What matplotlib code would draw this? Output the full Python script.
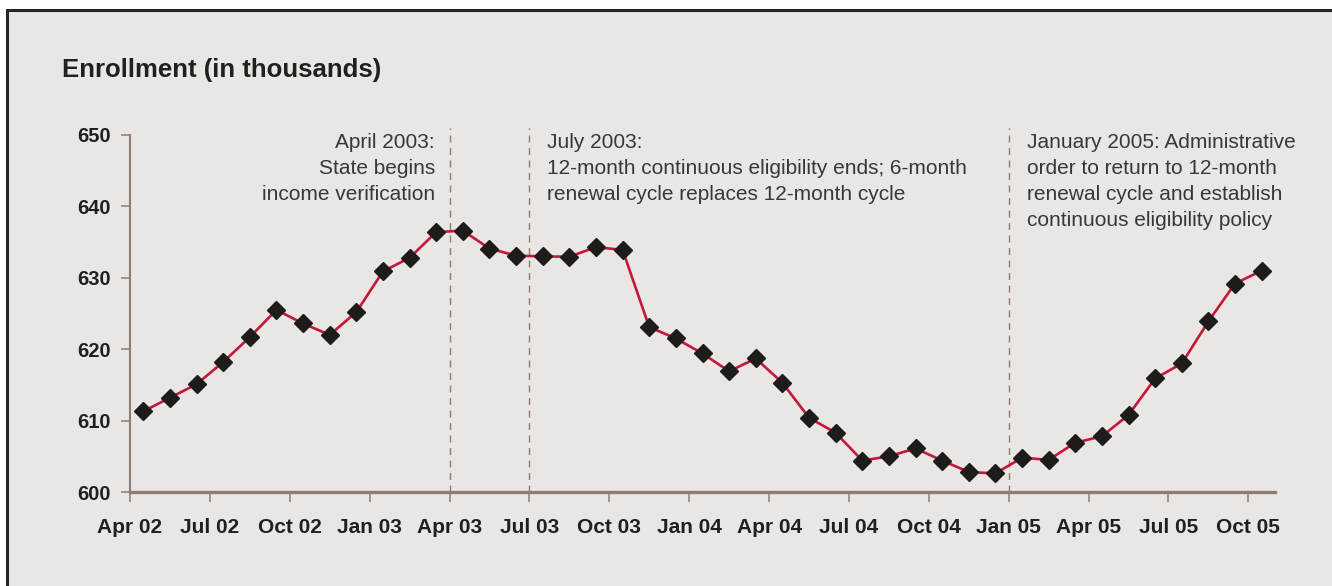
import matplotlib.pyplot as plt
from matplotlib.patches import Rectangle

plt.rcParams['font.family'] = ['Liberation Sans', 'DejaVu Sans']

# monthly enrollment, Apr 02 .. Oct 05 (thousands)
enrollment = [611.3, 613.2, 615.1, 618.2, 621.7, 625.5, 623.6, 622.0, 625.2, 630.9,
              632.8, 636.4, 636.6, 634.1, 633.1, 633.0, 632.95, 634.3, 633.9, 623.1,
              621.5, 619.4, 616.9, 618.7, 615.3, 610.4, 608.3, 604.4, 605.0, 606.1,
              604.4, 602.8, 602.6, 604.8, 604.5, 606.9, 607.8, 610.8, 615.9, 618.0,
              623.9, 629.2, 631.0]
quarter_labels = ['Apr 02', 'Jul 02', 'Oct 02', 'Jan 03', 'Apr 03', 'Jul 03', 'Oct 03',
                  'Jan 04', 'Apr 04', 'Jul 04', 'Oct 04', 'Jan 05', 'Apr 05', 'Jul 05',
                  'Oct 05']
y_ticks = [600, 610, 620, 630, 640, 650]

events = ['Apr 03', 'Jul 03', 'Jan 05']
notes = ['April 2003:\nState begins\nincome verification',
         'July 2003:\n12-month continuous eligibility ends; 6-month\nrenewal cycle replaces 12-month cycle',
         'January 2005: Administrative\norder to return to 12-month\nrenewal cycle and establish\ncontinuous eligibility policy']

bg = '#e9e6e3'
axcol = '#8e7d74'
W, H = 1332, 586

fig = plt.figure(figsize=(W / 100, H / 100), dpi=100)
fig.patch.set_facecolor('white')
fig.patches.append(Rectangle((6.5 / W, -0.05), 1.1, 1 - 10 / H + 0.05, transform=fig.transFigure,
                             facecolor=bg, edgecolor='#262626', linewidth=2.2, zorder=-1))

ax = fig.add_axes([130 / W, (H - 492) / H, (1275 - 130) / W, (492 - 135) / H])
ax.set_facecolor('none')

x = [i + 0.5 for i in range(len(enrollment))]
ax.plot(x, enrollment, color='#c4173a', lw=1.9, marker='D', ms=9.5,
        mfc='#1e1b1b', mec='#1e1b1b', zorder=3, clip_on=False)

ax.set_xlim(0, len(enrollment))
ax.set_ylim(600, 650)
ax.set_xticks([3 * i for i in range(len(quarter_labels))])
ax.set_xticklabels(quarter_labels, fontsize=15, fontweight='bold', color='#231f20')
ax.set_yticks(y_ticks)
ax.set_yticklabels([str(v) for v in y_ticks], fontsize=14.5, fontweight='bold', color='#231f20')

for s in ['top', 'right']:
    ax.spines[s].set_visible(False)
ax.spines['bottom'].set_color(axcol)
ax.spines['bottom'].set_linewidth(2.4)
ax.spines['left'].set_color(axcol)
ax.spines['left'].set_linewidth(1.5)
ax.tick_params(axis='x', length=7.5, width=1.1, color=axcol, pad=11)
ax.tick_params(axis='y', length=6.5, width=1.1, color=axcol, pad=7)

# event lines and notes
for ev in events:
    xe = 3 * quarter_labels.index(ev)
    ax.vlines(xe, 600, 651.0, colors=axcol, linestyles=(0, (5, 4)), lw=1.0, clip_on=False)

txt = dict(fontsize=15, color='#383838', va='top', linespacing=1.47)
ax.text(3 * quarter_labels.index(events[0]) - 0.55, 650.3, notes[0], ha='right', **txt)
ax.text(3 * quarter_labels.index(events[1]) + 0.65, 650.3, notes[1], ha='left', **txt)
ax.text(3 * quarter_labels.index(events[2]) + 0.7, 650.3, notes[2], ha='left', **txt)

fig.text(62 / W, 1 - 77 / H, 'Enrollment (in thousands)', fontsize=18.5, fontweight='bold',
         color='#231f20', va='baseline')

fig.savefig('out.png', dpi=100, facecolor=fig.get_facecolor())
